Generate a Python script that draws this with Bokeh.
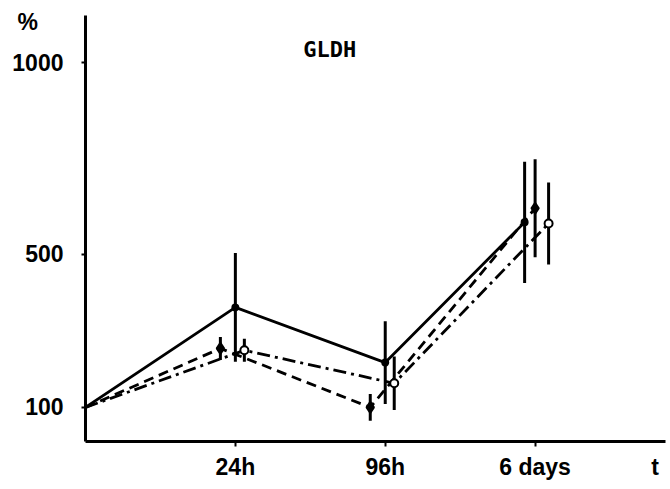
from bokeh.plotting import figure
from bokeh.models import FixedTicker, Label, Range1d
from bokeh.embed import file_html
from bokeh.resources import INLINE

# ---- data ----
time_index = [0, 1, 2, 3]                # 0 = start, 1 = 24h, 2 = 96h, 3 = 6 days
time_labels = ["24h", "96h", "6 days"]
y_ticks = [100, 500, 1000]
x_axis_title = "t"
y_axis_title = "%"

solid_values = [100, 361, 217, 583]
solid_err = [0, 142, 108, 158]

dashed_values = [100, 254, 100, 620]
dashed_err = [0, 30, 35, 128]

dashdot_values = [100, 249, 163, 580]
dashdot_err = [0, 30, 70, 107]

# small horizontal dodge of each series around its time point
solid_dodge = [0, 0.0, 0.0, -0.07]
dashed_dodge = [0, -0.1, -0.1, 0.0]
dashdot_dodge = [0, 0.06, 0.06, 0.09]

FONT = "Liberation Sans"
X_END = 3.87
Y_END = 1123

p = figure(width=670, height=489, output_backend="svg", toolbar_location=None,
           x_range=Range1d(0, X_END), y_range=Range1d(11, Y_END),
           min_border_left=85, min_border_right=5, min_border_top=15, min_border_bottom=48)
p.grid.visible = False
p.outline_line_color = None
p.background_fill_color = "white"
p.border_fill_color = "white"

for ax in (p.xaxis[0], p.yaxis[0]):
    ax.axis_line_width = 3
    ax.axis_line_color = "black"
    ax.major_tick_line_color = None          # visible marks are drawn as minor ticks
    ax.minor_tick_line_color = "black"
    ax.minor_tick_line_width = 2
    ax.minor_tick_in = 0
    ax.major_label_text_font = FONT
    ax.major_label_text_font_style = "bold"
    ax.major_label_text_font_size = "23px"
    ax.major_label_text_color = "black"

# x axis: tick marks at the time points, the axis title "t" sits at the far end
x_title_pos = X_END - 0.07
p.xaxis.ticker = FixedTicker(ticks=[1, 2, 3, x_title_pos], minor_ticks=[1, 2, 3])
overrides = {i + 1: lab for i, lab in enumerate(time_labels)}
overrides[x_title_pos] = x_axis_title
p.xaxis.major_label_overrides = overrides
p.xaxis.major_tick_out = 5
p.xaxis.minor_tick_out = 5
p.xaxis.major_label_standoff = 7

# y axis: the "%" title sits at the top end
y_title_pos = Y_END - 18
p.yaxis.ticker = FixedTicker(ticks=y_ticks + [y_title_pos], minor_ticks=y_ticks)
p.yaxis.major_label_overrides = {y_title_pos: y_axis_title + "\u00a0\u00a0\u00a0\u00a0"}
p.yaxis.major_tick_out = 4
p.yaxis.minor_tick_out = 4
p.yaxis.major_label_standoff = 18


def series(values, err, dodge, dash, marker, fill, size):
    xs = [t + d for t, d in zip(time_index, dodge)]
    p.segment(x0=xs[1:], x1=xs[1:],
              y0=[v - e for v, e in zip(values[1:], err[1:])],
              y1=[v + e for v, e in zip(values[1:], err[1:])],
              line_color="black", line_width=3)
    p.line(xs, values, line_color="black", line_width=2.8, line_dash=dash)
    p.scatter(xs[1:], values[1:], marker=marker, size=size, line_color="black",
              line_width=2, fill_color=fill)


series(solid_values, solid_err, solid_dodge, "solid", "circle", "black", 6)
series(dashed_values, dashed_err, dashed_dodge, "10 6", "diamond", "black", 11)
series(dashdot_values, dashdot_err, dashdot_dodge, "13 5 3 5", "circle", "white", 8)

p.add_layout(Label(x=1.63, y=1035, text="GLDH", text_font="DejaVu Sans Mono",
                   text_font_style="bold", text_font_size="22px", text_color="black",
                   text_align="center", text_baseline="middle"))

open("out.html", "w").write(file_html(p, INLINE))
